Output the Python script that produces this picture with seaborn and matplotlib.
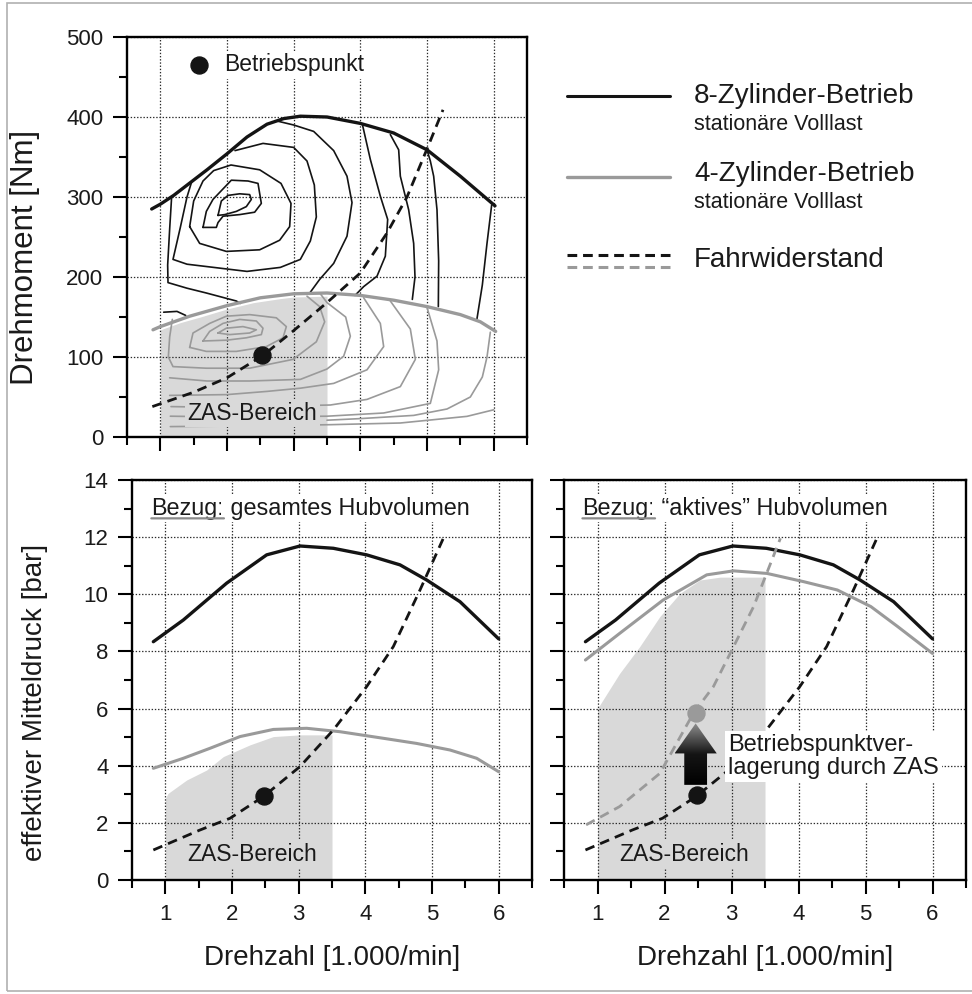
import numpy as np
import matplotlib
matplotlib.use("Agg")
import matplotlib.pyplot as plt
import seaborn as sns
from matplotlib.ticker import MultipleLocator
from matplotlib.patches import Polygon, Rectangle
from matplotlib.lines import Line2D
from matplotlib.colors import LinearSegmentedColormap

# ---------------- data (speed in 1000/min) ----------------
# top panel: torque [Nm]
fl8_x = [0.87, 1.0, 1.2, 1.45, 1.7, 2.0, 2.3, 2.6, 2.85, 3.1, 3.5, 4.0, 4.5, 5.0, 5.5, 6.02]
fl8_y = [285, 291, 302, 318, 334, 354, 375, 391, 398, 401, 400, 392, 380, 359, 326, 289]
fl4_x = [0.89, 1.0, 1.44, 1.99, 2.5, 3.0, 3.5, 4.0, 4.5, 5.0, 5.5, 5.8, 6.03]
fl4_y = [134, 138, 151, 164, 174, 179, 180, 177, 171, 163, 153, 144, 132]
res_x = [0.88, 1.5, 2.0, 2.54, 3.0, 3.5, 4.0, 4.4, 4.7, 5.0, 5.24]
res_y = [38, 56, 74, 102, 133, 168, 205, 255, 300, 360, 409]
zas_top_x = [1.0, 1.3, 1.6, 2.0, 2.4, 2.8, 3.0, 3.5]
zas_top_y = [134, 143, 150, 160, 168, 173, 175, 176]
op_top = (2.52, 102)
legend_dot = (1.585, 465)

# 8-cylinder efficiency contours (black)
k8_a = [(1.865, 277), (1.915, 295), (2.015, 302), (2.19, 304), (2.34, 303), (2.365, 297),
        (2.29, 288), (2.14, 282), (1.965, 278), (1.865, 277)]
k8_b = [(1.64, 262), (1.69, 282), (1.79, 297), (2.065, 321), (2.315, 320), (2.465, 317),
        (2.515, 292), (2.415, 281), (2.19, 278), (1.94, 276), (1.865, 268), (1.84, 262), (1.64, 262)]
k8_c = [(1.44, 263), (1.5, 295), (1.64, 320), (1.8, 333), (2.06, 340), (2.49, 334), (2.81, 317),
        (2.96, 292), (2.94, 263), (2.79, 246), (2.49, 234), (1.99, 232), (1.59, 242), (1.44, 263)]
k8_d = [(1.47, 319), (1.40, 300), (1.30, 262), (1.19, 222), (1.4, 216), (1.8, 212), (2.3, 207),
        (2.8, 212), (3.1, 222), (3.25, 245), (3.34, 275), (3.31, 315), (3.2, 345), (3.0, 362),
        (2.54, 367), (2.12, 358)]
k8_e1 = [(1.17, 301), (1.14, 260), (1.11, 215), (1.115, 193), (1.4, 186), (1.69, 180), (2.14, 170), (2.2, 167)]
k8_e2 = [(2.75, 395), (3.0, 390), (3.3, 382), (3.6, 358), (3.8, 326), (3.875, 293), (3.8, 251),
         (3.6, 217), (3.39, 197), (3.25, 181)]
k8_f = [(4.03, 391), (4.15, 347), (4.3, 301), (4.41, 272), (4.375, 226), (4.25, 201), (4.05, 188), (3.92, 177)]
k8_g = [(4.45, 378), (4.575, 359), (4.6, 326), (4.725, 284), (4.8, 242), (4.82, 200), (4.78, 172)]
k8_h = [(5.0, 359), (5.05, 345), (5.1, 326), (5.15, 284), (5.175, 220), (5.17, 163)]
k8_i = [(5.97, 290), (5.9, 242), (5.83, 190), (5.75, 148)]
k8_j = [(1.05, 156), (1.25, 157), (1.38, 152)]

# 4-cylinder efficiency contours (grey)
k4_a = [(1.865, 130), (1.99, 136), (2.24, 138), (2.44, 134), (2.34, 130), (2.04, 128), (1.865, 130)]
k4_b = [(1.64, 120), (1.74, 132), (1.94, 142), (2.19, 147), (2.44, 145), (2.54, 136), (2.515, 128),
        (2.29, 124), (1.99, 121), (1.64, 120)]
k4_c = [(1.44, 112), (1.49, 130), (1.74, 142), (1.99, 151), (2.34, 153), (2.74, 149), (2.89, 138),
        (2.84, 124), (2.59, 113), (2.14, 107), (1.69, 107), (1.44, 112)]
k4_d = [(1.18, 147), (1.14, 125), (1.12, 100), (1.19, 88), (1.69, 86), (2.34, 86), (2.99, 97),
        (3.34, 119), (3.465, 144), (3.39, 163), (3.2, 176)]
k4_e = [(1.14, 74), (1.7, 70), (2.34, 70), (3.1, 72), (3.5, 85), (3.75, 101), (3.85, 126),
        (3.78, 150), (3.5, 168), (3.4, 179)]
k4_f = [(1.14, 52), (2.0, 53), (2.6, 57), (3.1, 61), (3.6, 67), (4.1, 84), (4.35, 113), (4.3, 142), (4.05, 174)]
k4_g = [(1.16, 38), (2.0, 37), (3.0, 39), (3.55, 40), (4.1, 47), (4.6, 63), (4.825, 97), (4.75, 135), (4.45, 170)]
k4_h = [(1.15, 26), (2.0, 25), (3.5, 26), (4.35, 30), (5.05, 42), (5.175, 84), (5.15, 120), (5.0, 162)]
k4_i = [(3.5, 21), (4.0, 23), (4.8, 27), (5.3, 35), (5.65, 50), (5.83, 75), (5.9, 100), (5.95, 131)]
k4_j = [(1.15, 13), (2.5, 14), (3.55, 15.4), (4.6, 17.5), (5.6, 25.8), (6.0, 34)]

# bottom panels: mean effective pressure [bar]
pme8_x = [0.82, 1.27, 1.92, 2.52, 3.02, 3.52, 4.02, 4.52, 4.92, 5.42, 6.0]
pme8_y = [8.34, 9.1, 10.39, 11.38, 11.69, 11.61, 11.38, 11.03, 10.5, 9.74, 8.44]
pme4_x = [0.82, 1.27, 1.67, 2.12, 2.62, 3.12, 3.62, 4.27, 4.77, 5.27, 5.67, 6.0]
pme4_y = [3.91, 4.26, 4.61, 5.02, 5.27, 5.31, 5.19, 4.96, 4.78, 4.55, 4.26, 3.79]
pme4a_x = [0.82, 1.33, 1.98, 2.63, 3.03, 3.53, 4.08, 4.58, 5.08, 5.48, 6.0]
pme4a_y = [7.7, 8.63, 9.8, 10.68, 10.82, 10.73, 10.44, 10.15, 9.57, 8.87, 7.93]
res_bar_x = [0.82, 1.52, 1.97, 2.47, 3.02, 3.52, 4.02, 4.42, 4.82, 5.17]
res_bar_y = [1.05, 1.75, 2.16, 2.92, 3.97, 5.25, 6.77, 8.17, 10.15, 11.96]
res4a_x = [0.83, 1.33, 1.93, 2.43, 2.73, 2.98, 3.33, 3.73]
res4a_y = [1.93, 2.57, 3.73, 5.83, 6.77, 7.93, 9.57, 11.96]
zas_l_x = [1.0, 1.04, 1.32, 1.62, 1.87, 2.27, 2.62, 3.02, 3.5]
zas_l_y = [2.85, 3.03, 3.5, 3.85, 4.32, 4.73, 5.02, 5.08, 5.08]
zas_r_x = [1.0, 1.33, 1.63, 1.93, 2.23, 2.53, 2.83, 3.5]
zas_r_y = [6.0, 7.23, 8.17, 9.22, 10.03, 10.5, 10.6, 10.6]
op_bl = (2.48, 2.95)
op_br = (2.48, 2.98)
op_br_shift = (2.47, 5.85)
shift_arrow = (2.465, 3.33, 5.48)   # x, from, to

# ---------------- style ----------------
sns.set_theme(style="white")
plt.rcParams['font.family'] = ['Liberation Sans', 'DejaVu Sans']
plt.rcParams['lines.scale_dashes'] = False

BLACK = '#141414'
GREY = '#9a9a9a'
SHADE = '#d9d9d9'
TXT = '#1a1a1a'
DASH = (7, 4.5)
W, H = 972, 994

fig = plt.figure(figsize=(W / 100, H / 100), dpi=100)
fig.patch.set_facecolor('white')


def fx(px):
    return px / W


def fy(py):
    return 1 - py / H


ax_top = fig.add_axes([fx(127), fy(437), 400 / W, 400 / H])
ax_bl = fig.add_axes([fx(132), fy(880), 400 / W, 400 / H])
ax_br = fig.add_axes([fx(564), fy(880), 402 / W, 400 / H])


def style(ax, ymax, ymaj, ymin, xlabels=True, ylabels=True):
    ax.set_xlim(0.5, 6.5)
    ax.set_ylim(0, ymax)
    ax.xaxis.set_major_locator(MultipleLocator(1))
    ax.xaxis.set_minor_locator(MultipleLocator(0.5))
    ax.yaxis.set_major_locator(MultipleLocator(ymaj))
    ax.yaxis.set_minor_locator(MultipleLocator(ymin))
    ax.set_axisbelow(True)
    ax.grid(True, which='major', color='#2a2a2a', linestyle=(0, (1, 1.3)), linewidth=0.9)
    ax.grid(False, which='minor')
    for s in ax.spines.values():
        s.set_visible(True)
        s.set_color('black')
        s.set_linewidth(1.7)
    ax.tick_params(which='both', bottom=True, left=True, top=False, right=False,
                   direction='out', color='black', width=1.5)
    ax.tick_params(which='major', length=10, labelsize=16, pad=7, labelcolor=TXT)
    ax.tick_params(which='minor', length=6)
    ax.tick_params(labelbottom=xlabels, labelleft=ylabels)
    ax.set_facecolor('white')


def line(ax, x, y, color, lw, dashes=None, z=2):
    sns.lineplot(x=list(x), y=list(y), ax=ax, color=color, linewidth=lw, sort=False,
                 estimator=None, zorder=z)
    ln = ax.lines[-1]
    ln.set_solid_capstyle('round')
    ln.set_solid_joinstyle('round')
    if dashes is not None:
        ln.set_dashes(dashes)
    return ln


def contour(ax, pts, color, lw=1.2):
    xs, ys = zip(*pts)
    line(ax, xs, ys, color, lw)


# ---------------- top panel ----------------
style(ax_top, 500, 100, 50, xlabels=False)
ax_top.fill_between(zas_top_x, 0, zas_top_y, color=SHADE, linewidth=0, zorder=0.2)
for c in (k4_a, k4_b, k4_c, k4_d, k4_e, k4_f, k4_g, k4_h, k4_i, k4_j):
    contour(ax_top, c, GREY, 1.2)
for c in (k8_a, k8_b, k8_c, k8_d, k8_e1, k8_e2, k8_f, k8_g, k8_h, k8_i, k8_j):
    contour(ax_top, c, BLACK, 1.2)
line(ax_top, fl4_x, fl4_y, GREY, 2.4)
line(ax_top, fl8_x, fl8_y, BLACK, 2.4)
line(ax_top, res_x, res_y, BLACK, 2.0, dashes=DASH)
sns.scatterplot(x=[op_top[0]], y=[op_top[1]], ax=ax_top, s=150, color=BLACK, edgecolor=BLACK, zorder=4)
sns.scatterplot(x=[legend_dot[0]], y=[legend_dot[1]], ax=ax_top, s=150, color=BLACK, edgecolor=BLACK, zorder=4)
ax_top.text(1.96, legend_dot[1], "Betriebspunkt", fontsize=16.5, va='center', ha='left', color=TXT,
            zorder=5, bbox=dict(fc='white', ec='none', pad=2))
ax_top.text(1.41, 30, "ZAS-Bereich", fontsize=16.5, va='center', ha='left', color=TXT,
            zorder=5, bbox=dict(fc=SHADE, ec='none', pad=2))
ax_top.set_ylabel("Drehmoment [Nm]", fontsize=22.5, color=TXT)
ax_top.yaxis.set_label_coords(-0.2175, 0.45)

# ---------------- bottom left ----------------
style(ax_bl, 14, 2, 1)
ax_bl.fill_between(zas_l_x, 0, zas_l_y, color=SHADE, linewidth=0, zorder=0.2)
line(ax_bl, pme4_x, pme4_y, GREY, 2.2)
line(ax_bl, pme8_x, pme8_y, BLACK, 2.4)
line(ax_bl, res_bar_x, res_bar_y, BLACK, 2.0, dashes=DASH)
sns.scatterplot(x=[op_bl[0]], y=[op_bl[1]], ax=ax_bl, s=150, color=BLACK, edgecolor=BLACK, zorder=4)
ax_bl.text(1.33, 0.9, "ZAS-Bereich", fontsize=16.5, va='center', ha='left', color=TXT,
           zorder=5, bbox=dict(fc=SHADE, ec='none', pad=2))
ax_bl.set_ylabel("effektiver Mitteldruck [bar]", fontsize=20, color=TXT)
ax_bl.yaxis.set_label_coords(-0.21, 0.443)
ax_bl.set_xlabel("Drehzahl [1.000/min]", fontsize=20, color=TXT)
ax_bl.xaxis.set_label_coords(0.5, -0.163)

# ---------------- bottom right ----------------
style(ax_br, 14, 2, 1, ylabels=False)
ax_br.fill_between(zas_r_x, 0, zas_r_y, color=SHADE, linewidth=0, zorder=0.2)
line(ax_br, pme4a_x, pme4a_y, GREY, 2.2)
line(ax_br, pme8_x, pme8_y, BLACK, 2.4)
line(ax_br, res4a_x, res4a_y, GREY, 2.0, dashes=DASH)
line(ax_br, res_bar_x, res_bar_y, BLACK, 2.0, dashes=DASH)
sns.scatterplot(x=[op_br[0]], y=[op_br[1]], ax=ax_br, s=150, color=BLACK, edgecolor=BLACK, zorder=4)
sns.scatterplot(x=[op_br_shift[0]], y=[op_br_shift[1]], ax=ax_br, s=150, color=GREY, edgecolor=GREY, zorder=4)
ax_br.text(1.33, 0.9, "ZAS-Bereich", fontsize=16.5, va='center', ha='left', color=TXT,
           zorder=5, bbox=dict(fc=SHADE, ec='none', pad=2))
ax_br.text(2.95, 4.32, "Betriebspunktver-\nlagerung durch ZAS", fontsize=17, va='center', ha='left',
           color=TXT, linespacing=1.05, zorder=5, bbox=dict(fc='white', ec='none', pad=2))
ax_br.set_xlabel("Drehzahl [1.000/min]", fontsize=20, color=TXT)
ax_br.xaxis.set_label_coords(0.5, -0.163)

# gradient block arrow
ax_x, a_from, a_to = shift_arrow
hw, sw, hl = 0.315, 0.17, 1.05
arrow_pts = [(ax_x - sw, a_from), (ax_x + sw, a_from), (ax_x + sw, a_to - hl), (ax_x + hw, a_to - hl),
             (ax_x, a_to), (ax_x - hw, a_to - hl), (ax_x - sw, a_to - hl)]
poly = Polygon(arrow_pts, closed=True, facecolor='none', edgecolor='none')
ax_br.add_patch(poly)
grad = np.linspace(0, 1, 256).reshape(-1, 1)
cmap = LinearSegmentedColormap.from_list('arrow', ['#000000', '#151515', '#8e8e8e'])
im = ax_br.imshow(grad, extent=[ax_x - hw, ax_x + hw, a_from, a_to], origin='lower', cmap=cmap,
                  aspect='auto', zorder=4, interpolation='bilinear')
im.set_clip_path(poly)
ax_br.set_xlim(0.5, 6.5)
ax_br.set_ylim(0, 14)


# "Bezug:" headers with underline
def bezug(ax, x, y, rest):
    t1 = ax.text(x, y, "Bezug:", fontsize=16.8, va='center', ha='left', color=TXT, zorder=5,
                 bbox=dict(fc='white', ec='none', pad=2))
    ax.annotate(rest, xy=(1, 0), xycoords=t1, xytext=(0, 0), textcoords='offset points',
                fontsize=16.8, va='bottom', ha='left', color=TXT, zorder=5,
                bbox=dict(fc='white', ec='none', pad=2))
    ax.annotate('', xy=(0, 0.05), xycoords=t1, xytext=(1, 0.05), textcoords=t1,
                arrowprops=dict(arrowstyle='-', color='#8a8a8a', lw=1.6, shrinkA=0, shrinkB=0),
                zorder=6)


bezug(ax_bl, 0.79, 13.02, " gesamtes Hubvolumen")
bezug(ax_br, 0.775, 13.02, " \u201caktives\u201d Hubvolumen")

# ---------------- legend (figure level) ----------------
fig.add_artist(Line2D([fx(567), fx(670)], [fy(96), fy(96)], color=BLACK, lw=2.2))
fig.add_artist(Line2D([fx(567), fx(670)], [fy(177), fy(177)], color=GREY, lw=2.4))
l1 = Line2D([fx(567), fx(670)], [fy(255), fy(255)], color=BLACK, lw=2.2)
l1.set_dashes((7, 4.2))
fig.add_artist(l1)
l2 = Line2D([fx(567), fx(670)], [fy(267), fy(267)], color=GREY, lw=2.2)
l2.set_dashes((7, 4.2))
fig.add_artist(l2)
fig.text(fx(694), fy(96), "8-Zylinder-Betrieb", fontsize=20, va='center', ha='left', color=TXT)
fig.text(fx(694), fy(124), "station\u00e4re Volllast", fontsize=15.5, va='center', ha='left', color=TXT)
fig.text(fx(694), fy(174), "4-Zylinder-Betrieb", fontsize=20, va='center', ha='left', color=TXT)
fig.text(fx(694), fy(203), "station\u00e4re Volllast", fontsize=15.5, va='center', ha='left', color=TXT)
fig.text(fx(694), fy(260), "Fahrwiderstand", fontsize=20, va='center', ha='left', color=TXT)

# thin frame of the original figure
fig.add_artist(Rectangle((fx(7), fy(991)), fx(972), fy(3) - fy(991), transform=fig.transFigure,
                         fill=False, edgecolor='#b0b0b0', lw=1.2))

fig.savefig("out.png", dpi=100, facecolor='white')
